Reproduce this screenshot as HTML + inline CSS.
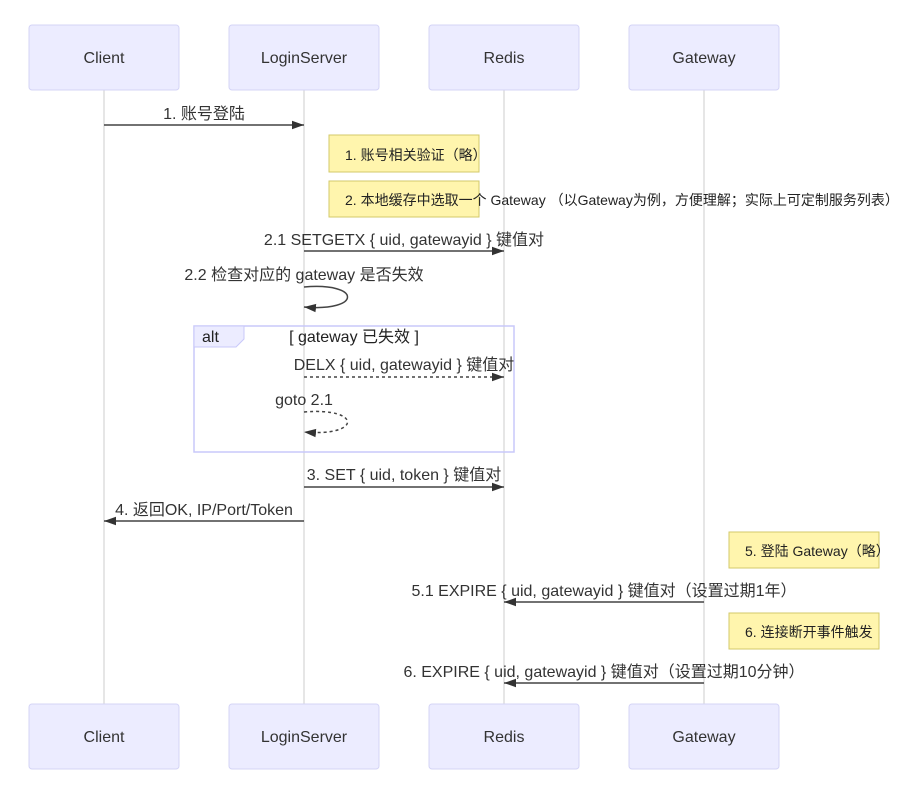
<!DOCTYPE html>
<html><head><meta charset="utf-8"><style>
html,body{margin:0;padding:0;background:#fff;}
svg{display:block;}
text{font-family:"Liberation Sans","Noto Sans CJK SC",sans-serif;}
.a{font-size:16px;fill:#333;text-anchor:middle;}
.m{font-size:16px;fill:#333;text-anchor:middle;}
.n{font-size:14px;fill:#222;}
.box{fill:#ECECFF;stroke:#d4d4f6;stroke-width:1;}
.note{fill:#FFF5AD;stroke:#d3c96a;stroke-width:1;}
.ln{stroke:#444;stroke-width:1.5;fill:none;}
</style></head><body>
<svg width="911" height="793" viewBox="0 0 911 793" xmlns="http://www.w3.org/2000/svg">
<defs>
<marker id="ah" markerWidth="12" markerHeight="12" refX="10" refY="5" orient="auto" markerUnits="userSpaceOnUse" viewBox="0 0 10 10"><path d="M0,1.5 L10,5 L0,8.5 z" fill="#333"/></marker>
</defs>
<g stroke="#ddd" stroke-width="1.5">
<line x1="104" y1="90" x2="104" y2="704"/>
<line x1="304" y1="90" x2="304" y2="704"/>
<line x1="504" y1="90" x2="504" y2="704"/>
<line x1="704" y1="90" x2="704" y2="704"/>
</g>
<rect class="box" x="29" y="25" width="150" height="65" rx="3"/>
<rect class="box" x="229" y="25" width="150" height="65" rx="3"/>
<rect class="box" x="429" y="25" width="150" height="65" rx="3"/>
<rect class="box" x="629" y="25" width="150" height="65" rx="3"/>
<rect class="box" x="29" y="704" width="150" height="65" rx="3"/>
<rect class="box" x="229" y="704" width="150" height="65" rx="3"/>
<rect class="box" x="429" y="704" width="150" height="65" rx="3"/>
<rect class="box" x="629" y="704" width="150" height="65" rx="3"/>
<g class="a">
<text x="104" y="63">Client</text><text x="304" y="63">LoginServer</text><text x="504" y="63">Redis</text><text x="704" y="63">Gateway</text>
<text x="104" y="742">Client</text><text x="304" y="742">LoginServer</text><text x="504" y="742">Redis</text><text x="704" y="742">Gateway</text>
</g>

<text class="m" x="204" y="119">1. 账号登陆</text>
<line class="ln" x1="104" y1="125" x2="304" y2="125" marker-end="url(#ah)"/>

<rect class="note" x="329" y="135" width="150" height="37"/>
<text class="n" x="345" y="160">1. 账号相关验证（略）</text>
<rect class="note" x="329" y="181" width="150" height="36"/>
<text class="n" x="345" y="205">2. 本地缓存中选取一个 Gateway （以Gateway为例，方便理解；实际上可定制服务列表）</text>

<text class="m" x="404" y="245">2.1 SETGETX { uid, gatewayid } 键值对</text>
<line class="ln" x1="304" y1="251" x2="504" y2="251" marker-end="url(#ah)"/>

<text class="m" x="304" y="280">2.2 检查对应的 gateway 是否失效</text>
<path class="ln" d="M304,287 C362,282 362,312 304,307" marker-end="url(#ah)"/>

<rect x="194" y="326" width="320" height="126" fill="none" stroke="#c8c8fa" stroke-width="1.5"/>
<path d="M194,326 L244,326 L244,339 L236,347 L194,347 Z" fill="#ECECFF" stroke="#c8c8fa" stroke-width="1"/>
<text x="202" y="342" style="font-size:16px;fill:#222">alt</text>
<text x="354" y="342" class="m" style="fill:#222">[ gateway 已失效 ]</text>

<text class="m" x="404" y="370">DELX { uid, gatewayid } 键值对</text>
<line class="ln" x1="304" y1="377" x2="504" y2="377" stroke-dasharray="3,3" marker-end="url(#ah)"/>
<text class="m" x="304" y="405">goto 2.1</text>
<path class="ln" d="M304,412 C362,407 362,437 304,432" stroke-dasharray="3,3" marker-end="url(#ah)"/>

<text class="m" x="404" y="480">3. SET { uid, token } 键值对</text>
<line class="ln" x1="304" y1="487" x2="504" y2="487" marker-end="url(#ah)"/>
<text class="m" x="204" y="515">4. 返回OK, IP/Port/Token</text>
<line class="ln" x1="304" y1="521" x2="104" y2="521" marker-end="url(#ah)"/>

<rect class="note" x="729" y="532" width="150" height="36"/>
<text class="n" x="745" y="556">5. 登陆 Gateway（略）</text>
<text class="m" x="604" y="596">5.1 EXPIRE { uid, gatewayid } 键值对（设置过期1年）</text>
<line class="ln" x1="704" y1="602" x2="504" y2="602" marker-end="url(#ah)"/>
<rect class="note" x="729" y="613" width="150" height="36"/>
<text class="n" x="745" y="637">6. 连接断开事件触发</text>
<text class="m" x="604" y="677">6. EXPIRE { uid, gatewayid } 键值对（设置过期10分钟）</text>
<line class="ln" x1="704" y1="683" x2="504" y2="683" marker-end="url(#ah)"/>
</svg>
</body></html>
